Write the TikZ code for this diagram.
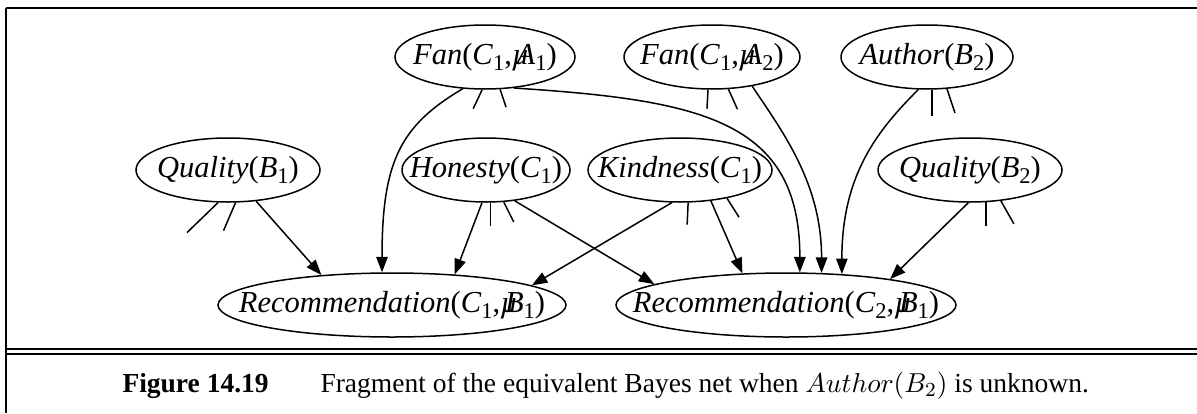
\documentclass[tikz,border=0pt]{standalone}
\usepackage{fontspec}
\setmainfont{Liberation Serif}
\usetikzlibrary{arrows.meta, shapes.geometric}

% label helpers
\newcommand{\bnvar}[2]{\textit{#1}\raisebox{-0.45ex}{\fontsize{9}{9}\selectfont #2}}
\newcommand{\bnglitch}{\textit{µ}\kern-0.42em}
\newcommand{\bnlabel}[1]{\makebox[0pt]{#1}}

\tikzset{
  bnnode/.style={draw, ellipse, line width=0.6pt, inner sep=0pt,
    minimum height=25.6pt, font=\fontsize{12.2}{14}\selectfont},
  bnedge/.style={line width=0.6pt, -{Triangle[length=6.2pt, width=4.6pt]}},
  bnstub/.style={line width=0.6pt},
  bncap/.style={anchor=base west, inner sep=0pt, font=\fontsize{11}{13}\selectfont},
}

\begin{document}
\begin{tikzpicture}[x=0.4pt, y=-0.4pt]
    \useasboundingbox (0,0) rectangle (1197,413);

    % Frame
    \draw[line width=0.8pt] (6,8) -- (1197,8);
    \draw[line width=0.7pt] (6,8) -- (6,413);
    \draw[line width=0.6pt] (6,349) -- (1197,349);
    \draw[line width=0.6pt] (6,354) -- (1197,354);

    % Top row
    \node[bnnode, minimum width=72pt] (fanA) at (485,57)
        {\bnlabel{\textit{Fan}(\bnvar{C}{1},\bnglitch\bnvar{A}{1})}};
    \node[bnnode, minimum width=70.4pt] (fanB) at (712,57)
        {\bnlabel{\textit{Fan}(\bnvar{C}{1},\bnglitch\bnvar{A}{2})}};
    \node[bnnode, minimum width=68.8pt] (author) at (927,57)
        {\bnlabel{\textit{Author}(\bnvar{B}{2})}};

    % Middle row
    \node[bnnode, minimum width=73.6pt] (qualA) at (228,170)
        {\bnlabel{\textit{Quality}(\bnvar{B}{1})}};
    \node[bnnode, minimum width=67.2pt] (honesty) at (486,170)
        {\bnlabel{\textit{Honesty}(\bnvar{C}{1})}};
    \node[bnnode, minimum width=73.6pt] (kindness) at (680,170)
        {\bnlabel{\textit{Kindness}(\bnvar{C}{1})}};
    \node[bnnode, minimum width=73.6pt] (qualB) at (970,170)
        {\bnlabel{\textit{Quality}(\bnvar{B}{2})}};

    % Bottom row
    \node[bnnode, minimum width=139.2pt] (recA) at (392,305)
        {\bnlabel{\textit{Recommendation}(\bnvar{C}{1},\bnglitch\bnvar{B}{1})}};
    \node[bnnode, minimum width=136pt] (recB) at (786,305)
        {\bnlabel{\textit{Recommendation}(\bnvar{C}{2},\bnglitch\bnvar{B}{1})}};

    % Edges into recA
    \draw[bnedge] (qualA.-48.6) -- (recA.157.3);
    \draw[bnedge] (fanA.-125.3) .. controls +(-63,37) and +(0,-110) .. (recA.107.4);
    \draw[bnedge] (honesty.-97.1) -- (recA.26.6);
    \draw[bnedge] (kindness.-104.1) -- (recA.8.35);

    % Edges into recB
    \draw[bnedge] (honesty.-47.1) -- (recB.171.6);
    \draw[bnedge] (kindness.-45.2) -- (recB.144.9);
    \draw[bnedge] (fanA.-47.4) .. controls +(187,12) and +(0,-152) .. (recB.67.8);
    \draw[bnedge] (fanB.-36.3) .. controls +(30,45) and +(0,-90) .. (recB.42.7);
    \draw[bnedge] (author.-105.8) .. controls +(-40,40) and +(0,-100) .. (recB.29.3);
    \draw[bnedge] (qualB.-93.6) -- (recB.14.7);

    % Dangling stubs
    \foreach \bn/\ang/\dx/\dy in {fanA/-95/-9/19, fanA/-65/6/18,
        qualA/-107.5/-31/30, qualA/-77.6/-12/28,
        honesty/-82.9/0/23, honesty/-61.5/10/20,
        fanB/-97.1/-1/19, fanB/-63/9/20,
        author/-81.1/0/26, author/-58.7/8/24,
        kindness/-76/-1/22, kindness/-31.8/12/19,
        qualB/-64.6/0/24, qualB/-45.2/13/23}
        \draw[bnstub] (\bn.\ang) -- ++(\dx,\dy);

    % Caption
    \node[bncap, font=\fontsize{11}{13}\selectfont\bfseries] (fignum) at (122,392) {Figure 14.19};
    \node[bncap] (figtext) at (320,392)
        {Fragment of the equivalent Bayes net when $Author(B_2)$ is unknown.};

\end{tikzpicture}
\end{document}
